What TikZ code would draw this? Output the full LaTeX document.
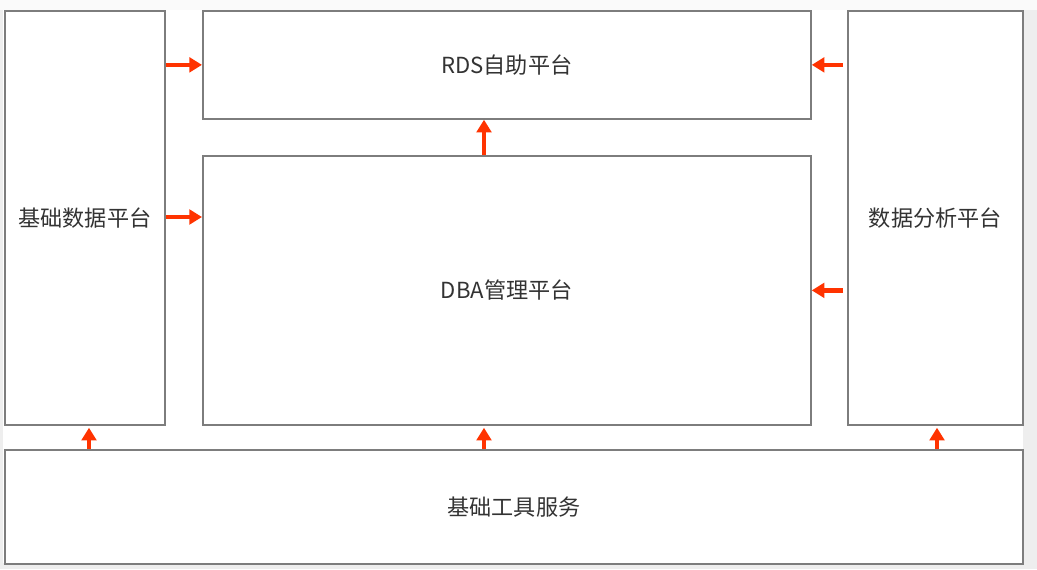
\documentclass[tikz,border=0pt]{standalone}
\usepackage{fontspec}
\setmainfont{Noto Sans CJK SC}
\usetikzlibrary{arrows.meta}
\definecolor{pagebg}{RGB}{238,238,238}
\definecolor{boxline}{RGB}{125,125,125}
\definecolor{arrowred}{RGB}{255,51,0}
\definecolor{labeltext}{RGB}{51,51,51}

\begin{document}
\begin{tikzpicture}[
  x=0.75pt, y=-0.75pt,
  font=\fontsize{16.6}{19}\selectfont, text=labeltext,
  box/.style={draw=boxline, line width=1.3pt, fill=white, inner sep=0pt, anchor=north west},
  arr/.style={-{Triangle[length=9.5pt,width=11pt]}, line width=3.4pt, arrowred}]

% page
\useasboundingbox (0,0) rectangle (1037,569);
\fill[pagebg] (0,0) rectangle (1037,569);
\fill[black!2] (0,0) rectangle (1037,10);
\fill[white] (3,10) rectangle (1023,563);

% boxes
\node[box, minimum width=160*0.75pt, minimum height=414*0.75pt] (jichu) at (4,10) {基础数据平台};
\node[box, minimum width=608*0.75pt, minimum height=108*0.75pt] (rds) at (202,10) {RDS自助平台};
\node[box, minimum width=608*0.75pt, minimum height=269*0.75pt] (dba) at (202,155) {DBA管理平台};
\node[box, minimum width=175*0.75pt, minimum height=414*0.75pt] (fenxi) at (847,10) {数据分析平台};
\node[box, minimum width=1018*0.75pt, minimum height=114*0.75pt] (gongju) at (4,449) {基础工具服务};

% arrows
\draw[arr] (jichu.east |- rds) -- (rds.west);
\draw[arr] (jichu.east |- 0,217) -- (dba.west |- 0,217);
\draw[arr] (dba.north -| 484,0) -- (rds.south -| 484,0);
\draw[arr] ([xshift=-3pt]fenxi.west |- rds) -- (rds.east);
\draw[arr] ([xshift=-3pt]fenxi.west |- dba) -- (dba.east);
\foreach \ax in {89,484,937}
  \draw[arr, shorten >=1.5pt] (gongju.north -| \ax,0) -- (dba.south -| \ax,0);
\end{tikzpicture}
\end{document}
